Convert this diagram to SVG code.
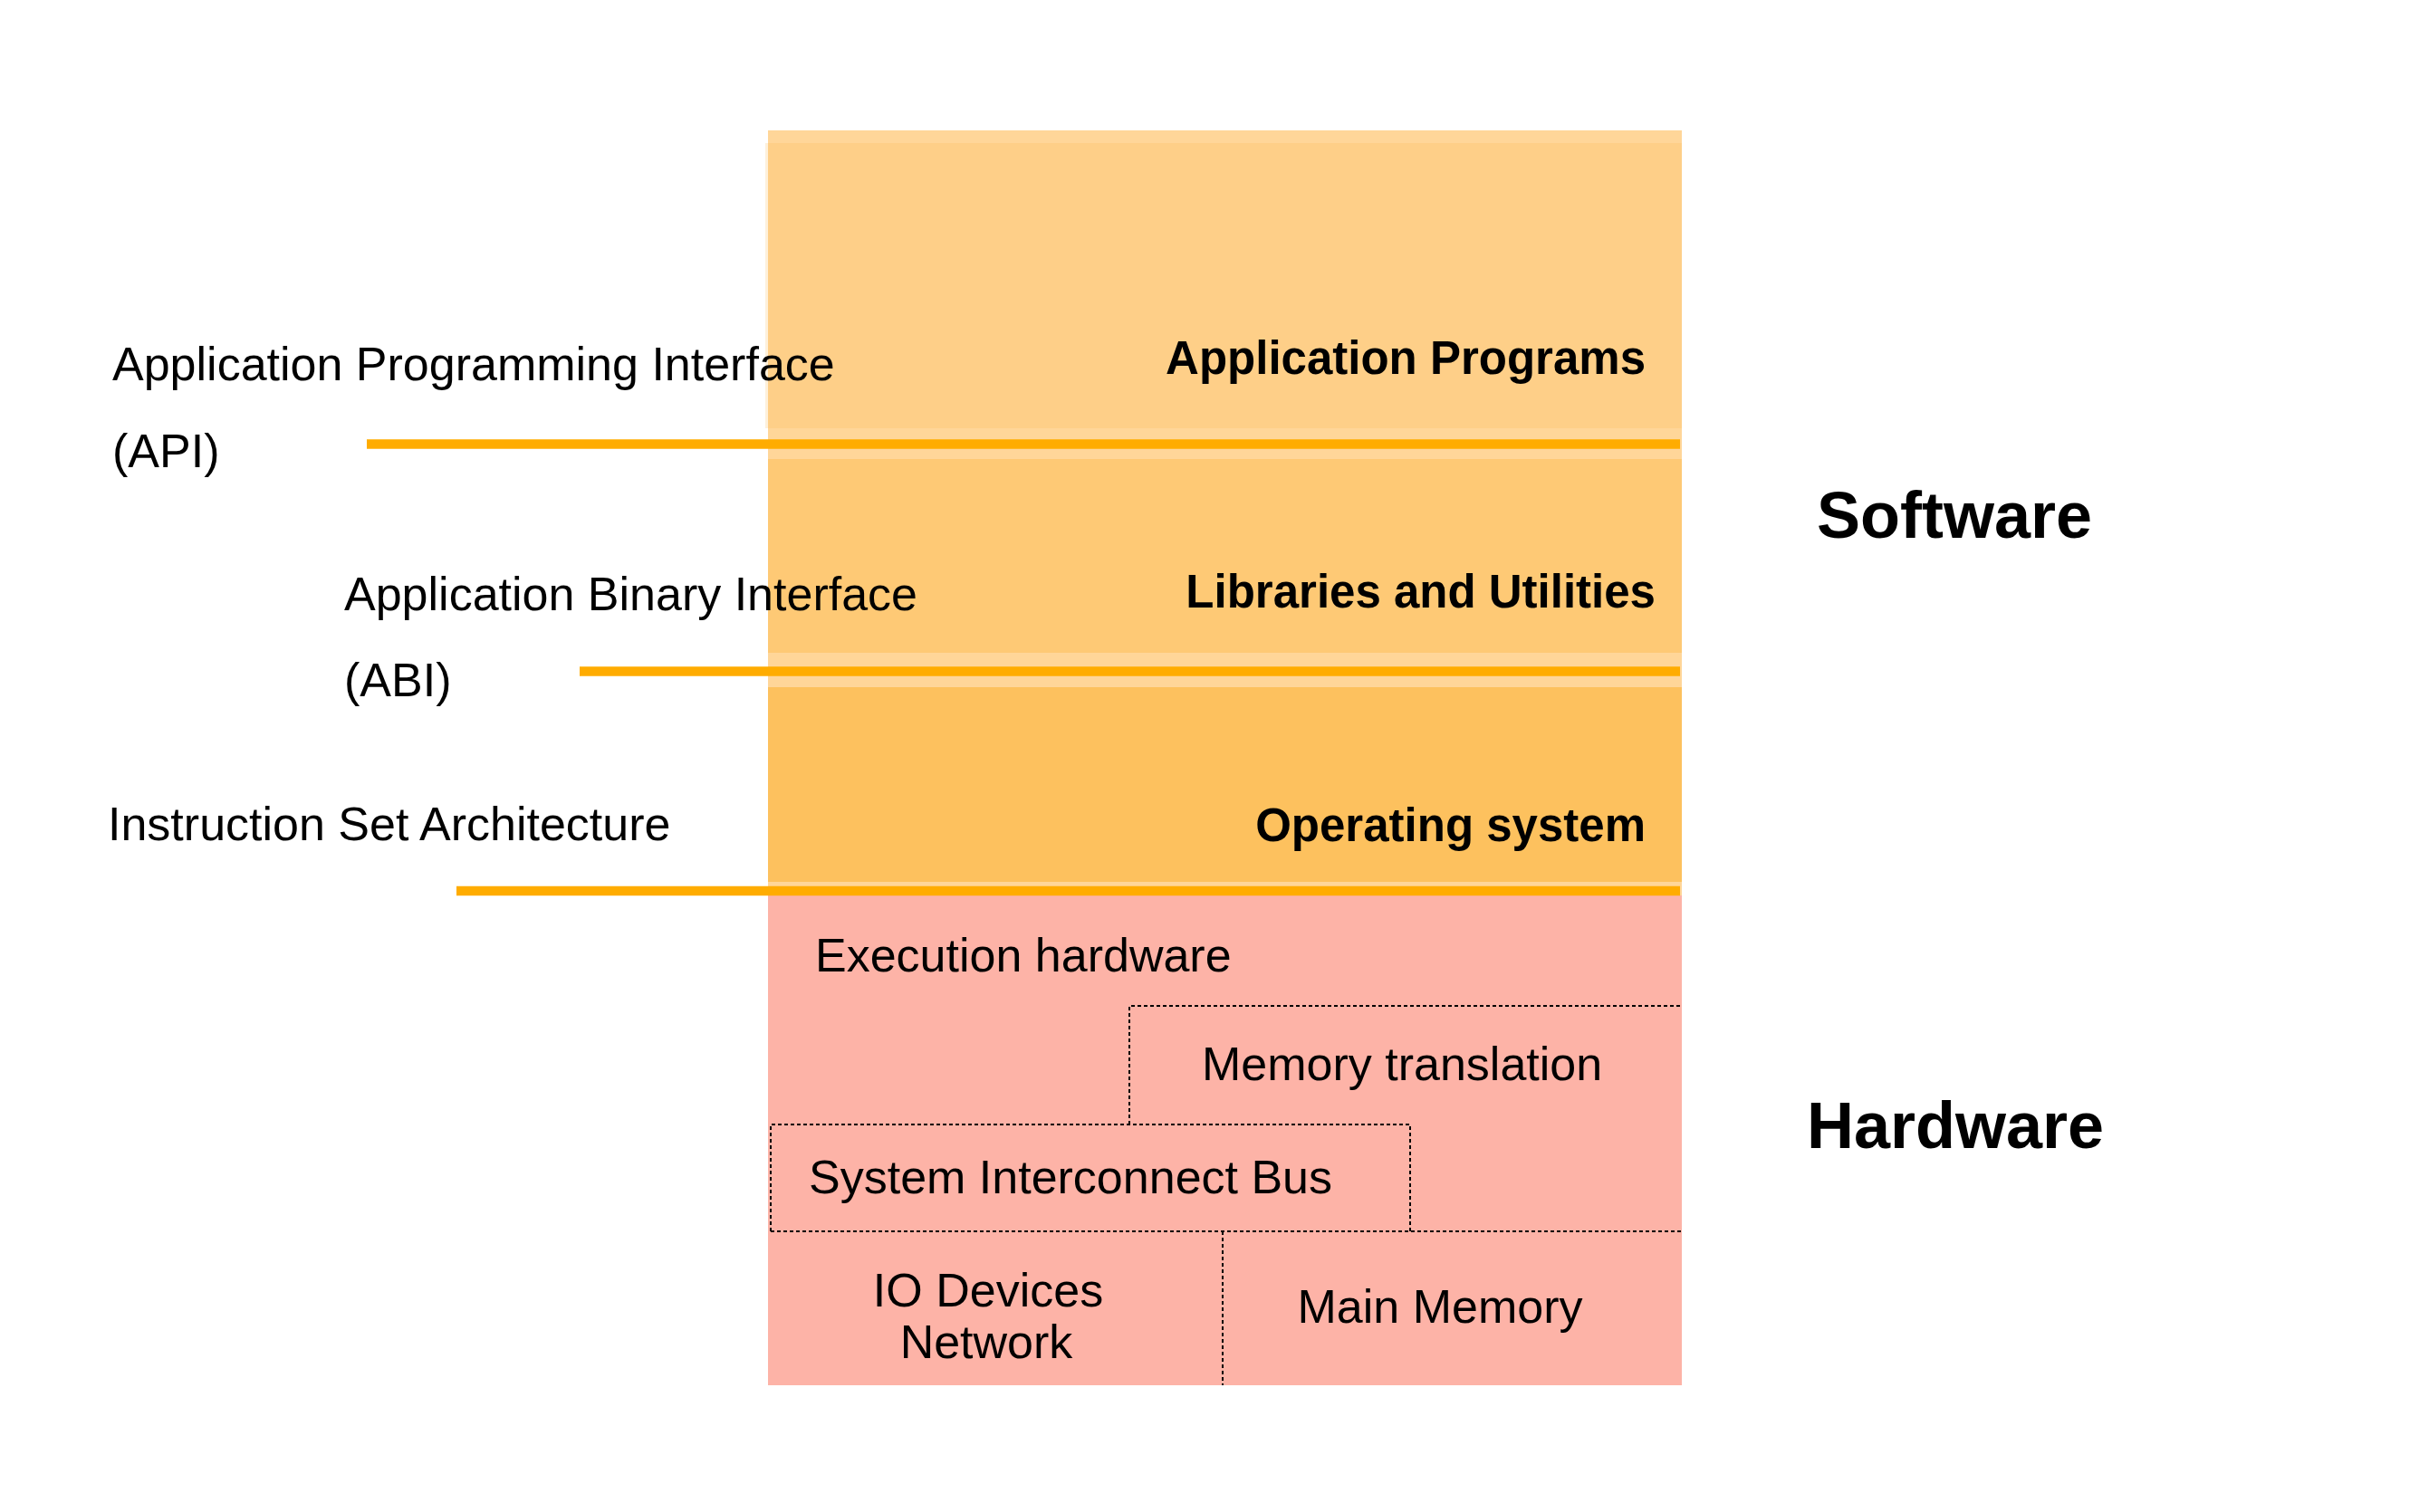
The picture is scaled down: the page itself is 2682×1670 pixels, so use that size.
<svg xmlns="http://www.w3.org/2000/svg" width="2682" height="1670" viewBox="0 0 2682 1670">
<style>
.lbl{font-family:"Liberation Sans",Arial,sans-serif;font-size:52px;fill:#000}
.bl{font-family:"Liberation Sans",Arial,sans-serif;font-size:51px;font-weight:bold;fill:#000}
.big{font-family:"Liberation Sans",Arial,sans-serif;font-size:72px;font-weight:bold;fill:#000;text-anchor:middle}
.iface{stroke:#FFAC00;stroke-width:10.5;fill:none}
.dash{stroke:#000;stroke-width:2;stroke-dasharray:4 3;fill:none}
</style>
<rect width="2682" height="1670" fill="#fff"/>
<g id="software-stack">
<rect x="848" y="144" width="1009" height="845" fill="#FFD699"/>
</g>
<g id="application-programs">
<rect x="845" y="158" width="3" height="315" fill="#FEF0DA"/>
<rect x="848" y="158" width="1009" height="315" fill="#FECF88"/>
<text class="bl" x="1817" y="413" text-anchor="end">Application Programs</text>
</g>
<g id="libraries">
<rect x="848" y="507" width="1009" height="214" fill="#FEC975"/>
<text class="bl" x="1828" y="671" text-anchor="end">Libraries and Utilities</text>
</g>
<g id="operating-system">
<rect x="848" y="759" width="1009" height="215" fill="#FDC15E"/>
<text class="bl" x="1817" y="929" text-anchor="end">Operating system</text>
</g>
<g id="hardware">
<rect x="848" y="989" width="1009" height="541" fill="#FDB3A7"/>
<text class="lbl" x="900" y="1073">Execution hardware</text>
</g>
<g id="memory-translation">
<path class="dash" d="M1247,1242 V1111 H1857"/>
<text class="lbl" x="1327" y="1193">Memory translation</text>
</g>
<g id="system-bus">
<path class="dash" d="M851,1360 V1242 H1557 V1360"/>
<path class="dash" d="M851,1360 H1857"/>
<text class="lbl" x="893" y="1318">System Interconnect Bus</text>
</g>
<g id="io-devices">
<path class="dash" d="M1350,1360 V1530"/>
<text class="lbl" x="1091" y="1443" text-anchor="middle">IO Devices</text>
<text class="lbl" x="1089" y="1500" text-anchor="middle">Network</text>
</g>
<g id="main-memory">
<text class="lbl" x="1590" y="1461" text-anchor="middle">Main Memory</text>
</g>
<g id="connectors">
<line class="iface" x1="405" y1="490.5" x2="1855" y2="490.5"/>
<line class="iface" x1="640" y1="741.5" x2="1855" y2="741.5"/>
<line class="iface" x1="504" y1="984" x2="1855" y2="984"/>
</g>
<g id="api-label">
<text class="lbl" x="124" y="420">Application Programming Interface</text>
<text class="lbl" x="124" y="516">(API)</text>
</g>
<g id="abi-label">
<text class="lbl" x="380" y="674">Application Binary Interface</text>
<text class="lbl" x="380" y="769">(ABI)</text>
</g>
<g id="isa-label">
<text class="lbl" x="119" y="928">Instruction Set Architecture</text>
</g>
<g id="software-title">
<text class="big" x="2158" y="594">Software</text>
</g>
<g id="hardware-title">
<text class="big" x="2159" y="1268">Hardware</text>
</g>
</svg>
